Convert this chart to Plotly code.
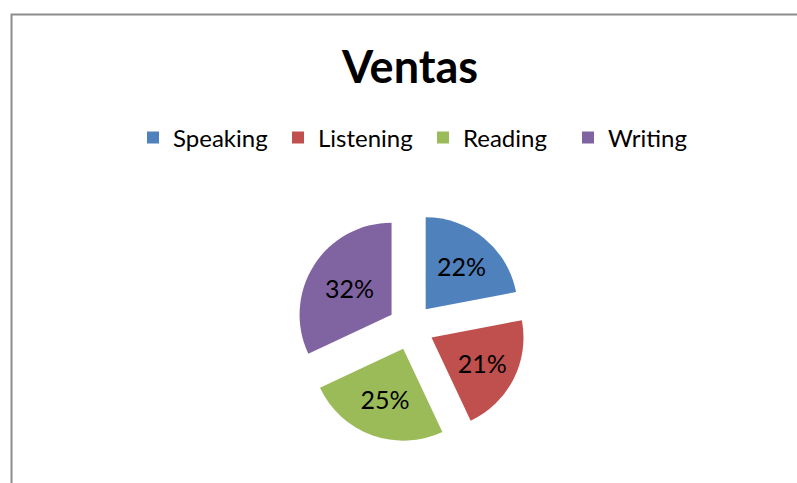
import plotly.graph_objects as go

# Sales share by skill
categories = ["Speaking", "Listening", "Reading", "Writing"]
values = [22, 21, 25, 32]
colors = ["#4F81BD", "#C0504D", "#9BBB59", "#8064A2"]

W, H = 797, 483

fig = go.Figure(
    go.Pie(
        labels=categories,
        values=values,
        sort=False,
        direction="clockwise",
        rotation=0,
        pull=[0.25] * len(values),
        marker=dict(colors=colors, line=dict(width=0)),
        texttemplate="%{percent:.0%}",
        textposition="inside",
        insidetextorientation="horizontal",
        textfont=dict(family="Lato", size=25, color="#000000"),
        hoverinfo="label+percent",
        domain=dict(x=[296 / W, 526 / W], y=[(H - 442) / H, (H - 212) / H]),
    )
)

fig.update_layout(
    width=W,
    height=H,
    margin=dict(l=0, r=0, t=0, b=0),
    paper_bgcolor="#FFFFFF",
    plot_bgcolor="#FFFFFF",
    title=dict(
        text="<b>Ventas</b>",
        font=dict(family="Lato", size=45, color="#000000"),
        x=410 / W,
        xanchor="center",
        y=1 - 67 / H,
        yanchor="middle",
    ),
    showlegend=True,
    legend=dict(
        orientation="h",
        x=133 / W,
        xanchor="left",
        y=1 - 138 / H,
        yanchor="middle",
        entrywidth=100,
        entrywidthmode="pixels",
        font=dict(family="Lato", size=24, color="#000000"),
        itemclick=False,
        itemdoubleclick=False,
        traceorder="normal",
    ),
    shapes=[
        dict(
            type="rect",
            xref="paper",
            yref="paper",
            x0=11.5 / W,
            x1=1.05,
            y0=-0.05,
            y1=1 - 14.5 / H,
            line=dict(color="#8C8C8C", width=2),
            fillcolor="rgba(0,0,0,0)",
            layer="below",
        )
    ],
)

fig.write_html("out.html")
